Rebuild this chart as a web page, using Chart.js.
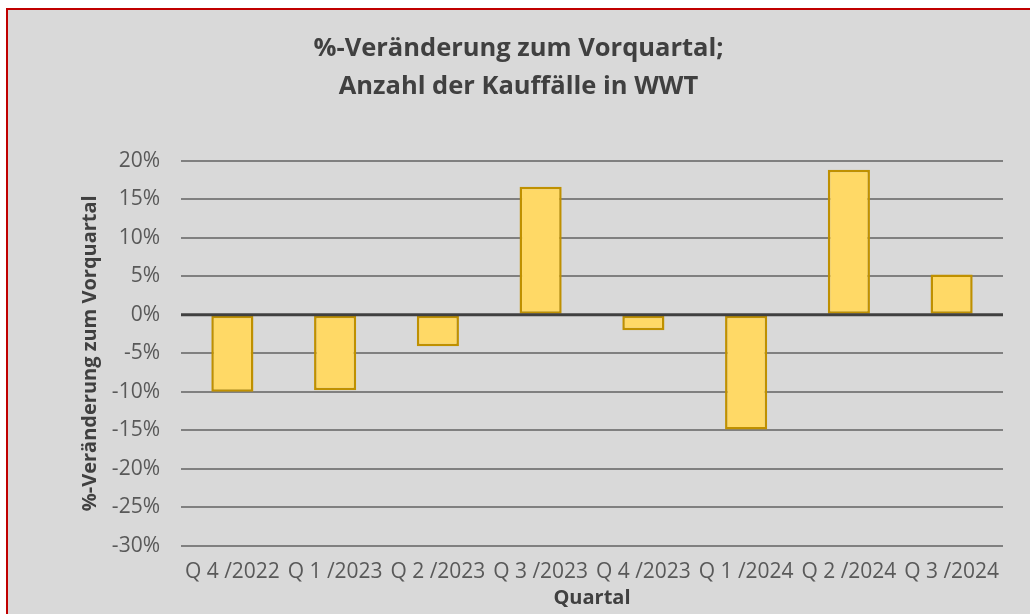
<!DOCTYPE html>
<html>
<head>
<meta charset="utf-8">
<script src="https://cdn.jsdelivr.net/npm/chart.js@4"></script>
<style>
  html, body { margin: 0; padding: 0; background: #ffffff; overflow: hidden; }
  #frame {
    position: absolute; left: 6px; top: 8px;
    width: 1022px; height: 604px;
    border: 2px solid #c00000;
    background: #d9d9d9;
  }
</style>
</head>
<body>
<div id="frame"><canvas id="chart" width="1022" height="604"></canvas></div>
<script>
// Quartale und %-Veränderung zum Vorquartal
const quarters = ["Q 4 /2022", "Q 1 /2023", "Q 2 /2023", "Q 3 /2023", "Q 4 /2023", "Q 1 /2024", "Q 2 /2024", "Q 3 /2024"];
const changes = [-10.0, -9.8, -4.1, 16.6, -2.0, -14.9, 18.8, 5.2];
const yTicks = [20, 15, 10, 5, 0, -5, -10, -15, -20, -25, -30];

const fontName = "'Open Sans', 'Noto Sans', sans-serif";

// dark zero line drawn over the bars, like in Excel
const zeroLine = {
  id: "zeroLine",
  afterDatasetsDraw(chart) {
    const y = chart.scales.y.getPixelForValue(0);
    const { left, right } = chart.chartArea;
    const ctx = chart.ctx;
    ctx.save();
    ctx.strokeStyle = "#404040";
    ctx.lineWidth = 3;
    ctx.beginPath();
    ctx.moveTo(left, y);
    ctx.lineTo(right, y);
    ctx.stroke();
    ctx.restore();
  },
};

new Chart(document.getElementById("chart"), {
  type: "bar",
  data: {
    labels: quarters,
    datasets: [
      {
        data: changes,
        backgroundColor: "#ffd966",
        borderColor: "#bf9000",
        borderWidth: 2.5,
        borderSkipped: false,
        categoryPercentage: 1,
        barPercentage: 0.41,
      },
    ],
  },
  options: {
    responsive: false,
    animation: false,
    layout: { padding: { left: 26, right: 27, top: 0, bottom: 0 } },
    plugins: {
      legend: { display: false },
      tooltip: { enabled: false },
      title: {
        display: true,
        text: ["%-Veränderung zum Vorquartal;", "Anzahl der Kauffälle in WWT"],
        color: "#404040",
        font: { family: fontName, size: 25.5, weight: "bold", lineHeight: 1.52 },
        padding: { top: 19, bottom: 54 },
      },
    },
    scales: {
      x: {
        grid: { display: false },
        border: { display: false },
        ticks: {
          color: "#595959",
          font: { family: fontName, size: 21 },
          padding: 5,
          autoSkip: false,
          maxRotation: 0,
          minRotation: 0,
        },
        title: {
          display: true,
          text: "Quartal",
          color: "#404040",
          font: { family: fontName, size: 20, weight: "bold", lineHeight: 1.2 },
          padding: { top: 0, bottom: 4 },
        },
        afterFit(scale) {
          scale.height = 68;
        },
      },
      y: {
        min: -30,
        max: 20,
        afterBuildTicks(scale) {
          scale.ticks = yTicks.map((v) => ({ value: v }));
        },
        grid: { color: "#808080", lineWidth: 2, drawTicks: false },
        border: { display: false },
        ticks: {
          color: "#595959",
          font: { family: fontName, size: 21 },
          padding: 21,
          callback: (v) => v + "%",
        },
        title: {
          display: true,
          text: "%-Veränderung zum Vorquartal",
          color: "#404040",
          font: { family: fontName, size: 20, weight: "bold", lineHeight: 1.2 },
          padding: { top: 44, bottom: 0 },
        },
        afterFit(scale) {
          scale.width = 147;
        },
      },
    },
  },
  plugins: [zeroLine],
});
</script>
</body>
</html>
